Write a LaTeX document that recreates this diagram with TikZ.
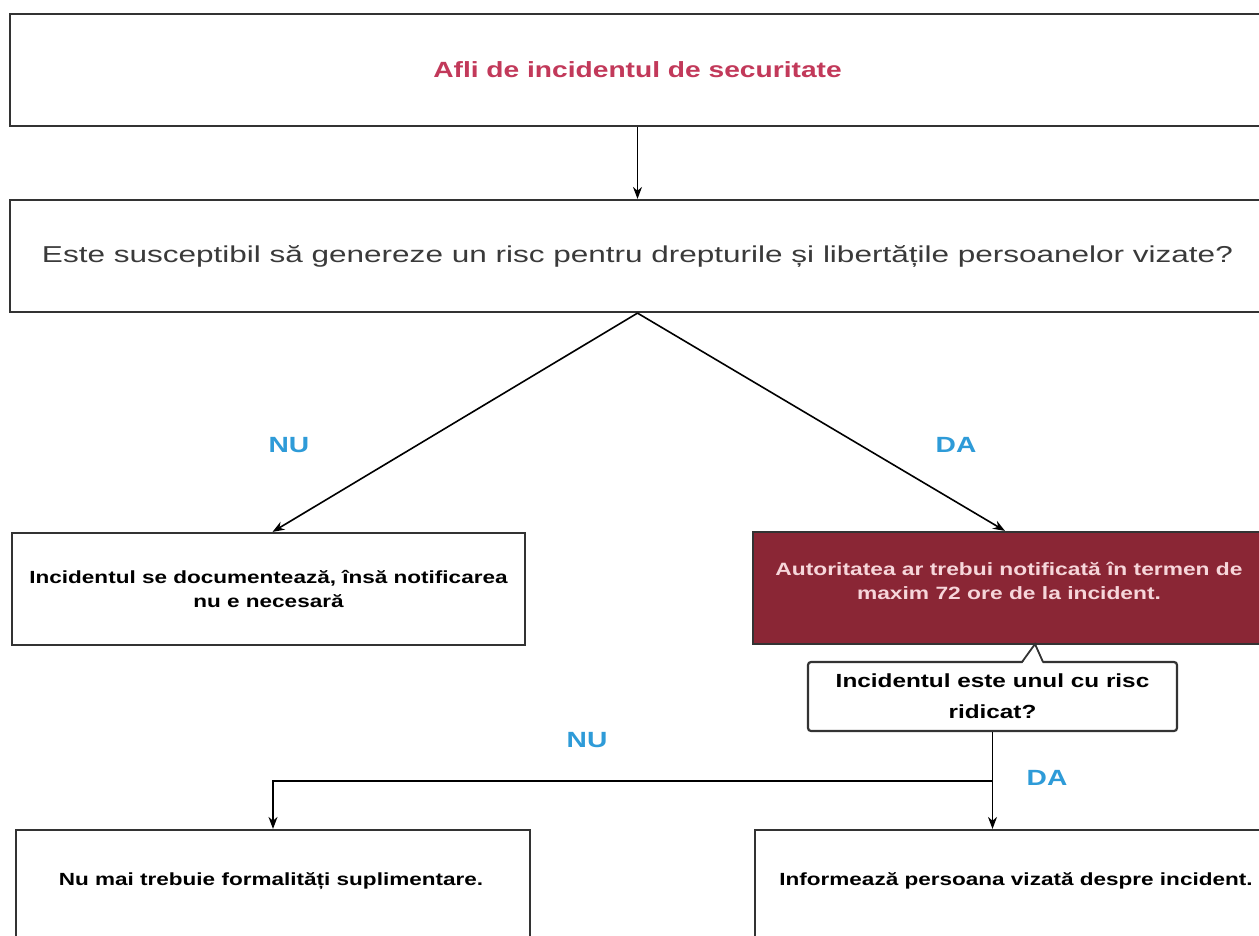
\documentclass[tikz,border=0pt]{standalone}
\usepackage{fontspec}
\setmainfont{Liberation Sans}[FakeStretch=1.28]
\newfontfamily\widefont{Liberation Sans}[FakeStretch=1.37]
\usetikzlibrary{arrows.meta,calc}
\definecolor{titlered}{HTML}{C2395A}
\definecolor{lblblue}{HTML}{2E9BD8}
\definecolor{darkred}{HTML}{8A2635}
\definecolor{pinktext}{HTML}{F6D6DA}
\definecolor{qgray}{HTML}{3A3A3A}
\definecolor{linec}{HTML}{333333}
\tikzset{
  box/.style={draw=linec, line width=2.2pt, fill=white, inner sep=0pt, align=center},
  conn/.style={draw=black, line width=1.6pt, -{Stealth[length=12pt,width=9pt]}},
  lbl/.style={text=lblblue, font=\fontsize{22}{26}\selectfont\bfseries},
  boldtxt/.style={font=\fontsize{17.6}{24}\selectfont\bfseries, text=black, align=center},
}
\begin{document}
\begin{tikzpicture}[x=1pt,y=-1pt]
\useasboundingbox (0,0) rectangle (1259,935);
\clip (0,0) rectangle (1259,935);
\fill[white] (0,0) rectangle (1259,935);

% boxes
\node[box, minimum width=1255pt, minimum height=112pt, text=titlered,
      font=\fontsize{22}{26}\selectfont\bfseries] (top) at (637.5,70)
      {Afli de incidentul de securitate};
\node[box, minimum width=1255pt, minimum height=112pt, text=qgray,
      font=\widefont\fontsize{23}{27}\selectfont] (q) at (637.5,256)
      {Este susceptibil să genereze un risc pentru drepturile și libertățile persoanelor vizate?};
\node[box, boldtxt, minimum width=513pt, minimum height=112pt] (b3) at (268.5,589)
      {Incidentul se documentează, însă notificarea\\nu e necesară};
\node[box, minimum width=512pt, minimum height=112pt, fill=darkred] (red) at (1009,588) {};
\node[boldtxt, text=pinktext, font=\fontsize{17.8}{24.5}\selectfont\bfseries] (redtxt) at ($(red.center)+(0,-7)$)
      {Autoritatea ar trebui notificată în termen de\\maxim 72 ore de la incident.};
\node[box, boldtxt, font=\fontsize{19}{31}\selectfont\bfseries, rounded corners=3pt,
      minimum width=369pt, minimum height=69pt] (co) at (992.5,696.5)
      {Incidentul este unul cu risc\\ridicat?};
% callout pointer
\fill[white] (1022,664) -- (1035,644) -- (1043,664) -- cycle;
\draw[linec, line width=1.8pt] (1022,662) -- (1035,644) -- (1043,662);

\node[box, minimum width=514pt, minimum height=170pt] (bl) at (273,915) {};
\node[box, minimum width=510pt, minimum height=170pt] (br) at (1010,915) {};
\node[boldtxt] (bltxt) at ($(bl.north)+(-2,52)$) {Nu mai trebuie formalități suplimentare.};
\node[boldtxt] (brtxt) at ($(br.north)+(6,52)$) {Informează persoana vizată despre incident.};

% labels
\node[lbl] (nu1) at (289,445) {NU};
\node[lbl] (da1) at (956,445) {DA};
\node[lbl] (nu2) at (587,740) {NU};
\node[lbl] (da2) at (1047,778) {DA};

% connectors
\draw[conn] (top.south) -- (q.north);
\coordinate (apex) at (q.south);
\draw[conn] (apex) -- ($(b3.north)+(4,0)$);
\draw[conn] (apex) -- ($(red.north)+(-4,0)$);
\coordinate (split) at ($(co.south)+(0,49)$);
\draw[conn] (co.south) -- (co.south |- br.north);
\draw[conn] (split) -| (bl.north);
\end{tikzpicture}
\end{document}
